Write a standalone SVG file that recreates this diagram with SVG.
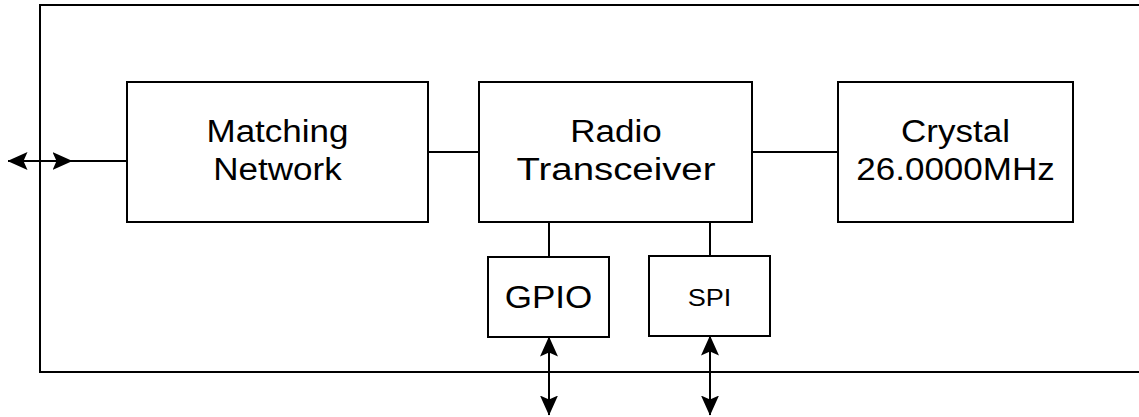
<svg xmlns="http://www.w3.org/2000/svg" width="1139" height="417" viewBox="0 0 1139 417">
<style>
.box{fill:#fff;stroke:#000;stroke-width:2}
.ln{fill:none;stroke:#000;stroke-width:2}
.t{font-family:"Liberation Sans",Arial,sans-serif;font-size:31px;fill:#000;text-anchor:middle}
.s{font-size:24px}
</style>
<defs>
<marker id="ah" viewBox="0 0 20 18" refX="19.5" refY="9" markerWidth="20" markerHeight="18" markerUnits="userSpaceOnUse" orient="auto-start-reverse">
<path d="M0,0 L20,9 L0,18 L4,9 Z" fill="#000"/>
</marker>
</defs>
<rect id="frame" x="40" y="5" width="1110" height="367" fill="none" stroke="#000" stroke-width="2"/>
<g id="connectors">
<line class="ln" x1="8" y1="161" x2="127" y2="161" marker-start="url(#ah)"/>
<line class="ln" x1="50" y1="161" x2="72" y2="161" stroke-width="3" marker-end="url(#ah)"/>
<line class="ln" x1="428" y1="152" x2="479" y2="152"/>
<line class="ln" x1="752" y1="152" x2="838" y2="152"/>
<line class="ln" x1="549" y1="222" x2="549" y2="257"/>
<line class="ln" x1="710" y1="222" x2="710" y2="256"/>
<line class="ln" x1="549" y1="337" x2="549" y2="415" marker-start="url(#ah)" marker-end="url(#ah)"/>
<line class="ln" x1="710" y1="336" x2="710" y2="415" marker-start="url(#ah)" marker-end="url(#ah)"/>
</g>
<g id="matching">
<rect class="box" x="127" y="82" width="301" height="140"/>
<g transform="translate(277.5,0) scale(1.13,1)"><text class="t" x="0" y="142">Matching</text><text class="t" x="0" y="180">Network</text></g>
</g>
<g id="radio">
<rect class="box" x="479" y="82" width="273" height="140"/>
<g transform="translate(616,0) scale(1.13,1)"><text class="t" x="0" y="142">Radio</text><text class="t" x="0" y="180" textLength="176" lengthAdjust="spacingAndGlyphs">Transceiver</text></g>
</g>
<g id="crystal">
<rect class="box" x="838" y="82" width="235" height="140"/>
<g transform="translate(955.5,0) scale(1.13,1)"><text class="t" x="0" y="142">Crystal</text><text class="t" x="0" y="180">26.0000MHz</text></g>
</g>
<g id="gpio">
<rect class="box" x="488" y="257" width="121" height="80"/>
<g transform="translate(548.5,0) scale(1.13,1)"><text class="t" x="0" y="308">GPIO</text></g>
</g>
<g id="spi">
<rect class="box" x="649" y="256" width="121" height="80"/>
<g transform="translate(709.5,0) scale(1.13,1)"><text class="t s" x="0" y="306">SPI</text></g>
</g>
</svg>
